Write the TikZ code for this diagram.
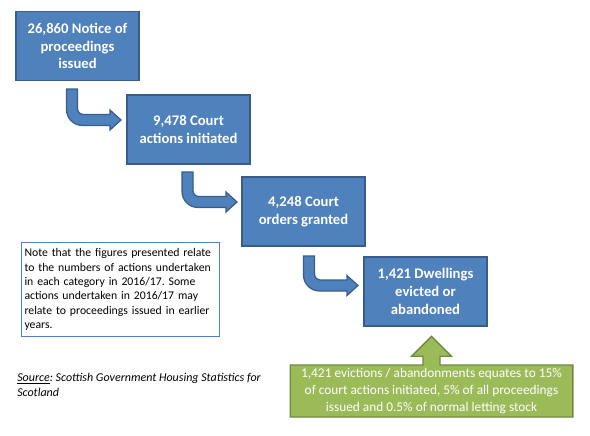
\documentclass[tikz,border=0pt]{standalone}
\usepackage{fontspec}
\setmainfont{Carlito}
\frenchspacing
\hyphenpenalty=10000
\usetikzlibrary{
    calc,
    positioning,
    shapes.arrows
}
\definecolor{stageblue}{HTML}{4F81BD}
\definecolor{stageedge}{HTML}{385D8A}
\definecolor{sumgreen}{HTML}{9BBB59}
\definecolor{sumedge}{HTML}{71893F}
\tikzset{
    % --- Stage of the process (blue box) ---
    stage/.style = {
        rectangle, draw=stageedge, fill=stageblue, line width=1pt,
        minimum width=92.25pt, minimum height=51.75pt,
        text=white, align=center, inner sep=2pt,
        font=\fontsize{11}{13.4}\selectfont\bfseries
    },
    % --- Bent block arrow between two stages ---
    bent arrow/.style = {
        draw=stageedge, fill=stageblue, line width=0.9pt
    },
    % --- Footnote box ---
    note box/.style = {
        rectangle, draw=stageblue, line width=0.75pt,
        text width=144pt, inner xsep=2.25pt, minimum height=70.5pt,
        align=left, font=\fontsize{8.8}{10.75}\selectfont
    },
    % --- Green summary box with up arrow ---
    summary box/.style = {
        arrow box, draw=sumedge, fill=sumgreen, line width=1pt,
        minimum width=212pt, minimum height=39pt, inner sep=2pt,
        arrow box arrows={north:21pt, south:-1pt, east:-1pt, west:-1pt},
        arrow box shaft width=12.75pt, arrow box head extend=8.6pt,
        arrow box head indent=0pt, arrow box tip angle=90,
        text=white, align=center, font=\fontsize{10}{12.4}\selectfont
    },
    % --- Source line ---
    source text/.style = {
        inner sep=0pt, align=left, font=\fontsize{9}{11.25}\selectfont\itshape
    }
}
% bent arrow from start coordinate #1 (top of shaft) to tip coordinate #2
\newcommand{\bentlink}[2]{%
    \draw[bent arrow] ($(#1)+(-5.5,0)$) [rounded corners=12pt]
        -- ($(#1 |- #2)+(-5.5,5.5)$) [sharp corners]
        -- ($(#2)+(-11,5.5)$) -- ($(#2)+(-11,10)$) -- (#2)
        -- ($(#2)+(-11,-10)$) -- ($(#2)+(-11,-5.5)$) [rounded corners=4.5pt]
        -- ($(#1 |- #2)+(5.5,-5.5)$) [sharp corners]
        -- ($(#1)+(5.5,0)$) -- cycle;%
}

\begin{document}
\begin{tikzpicture}[x=0.75pt, y=-0.75pt]

\useasboundingbox (0,0) rectangle (590,436);

% ---------------------------------------------------------
% Stages
% ---------------------------------------------------------
\node[stage] (Notice) at (77.5,46) {26,860 Notice of\\proceedings\\issued};
\node[stage] (Actions) at (188.5,129.5) {9,478 Court\\actions initiated};
\node[stage] (Orders) at (303.5,211.5) {4,248 Court\\orders granted};
\node[stage] (Evicted) at (425.5,291.5) {1,421 Dwellings\\evicted or\\abandoned};

% ---------------------------------------------------------
% Bent arrows
% ---------------------------------------------------------
\coordinate (NoticeOut) at (72,89);
\coordinate (ActionsIn) at (121,120);
\bentlink{NoticeOut}{ActionsIn}

\coordinate (ActionsOut) at (187.5,172);
\coordinate (OrdersIn) at (237,202);
\bentlink{ActionsOut}{OrdersIn}

\coordinate (OrdersOut) at (309,256);
\coordinate (EvictedIn) at (358,285.5);
\bentlink{OrdersOut}{EvictedIn}

% ---------------------------------------------------------
% Note and source
% ---------------------------------------------------------
\node[note box, anchor=north west] (Note) at (21,242) {%
    Note that the figures presented relate\\
    to the numbers of actions undertaken\\
    in each category in 2016/17. Some\\
    actions undertaken in 2016/17 may\\
    relate to proceedings issued in earlier\\
    years.};

\node[source text, anchor=west] (Source) at (17,384.5) {%
    \underline{Source}: Scottish Government Housing Statistics for\\
    Scotland};

% ---------------------------------------------------------
% Summary
% ---------------------------------------------------------
\node[summary box] (Summary) at (431.5,391) {%
    1,421 evictions / abandonments equates to 15\%\\
    of court actions initiated, 5\% of all proceedings\\
    issued and 0.5\% of normal letting stock};

\end{tikzpicture}
\end{document}
